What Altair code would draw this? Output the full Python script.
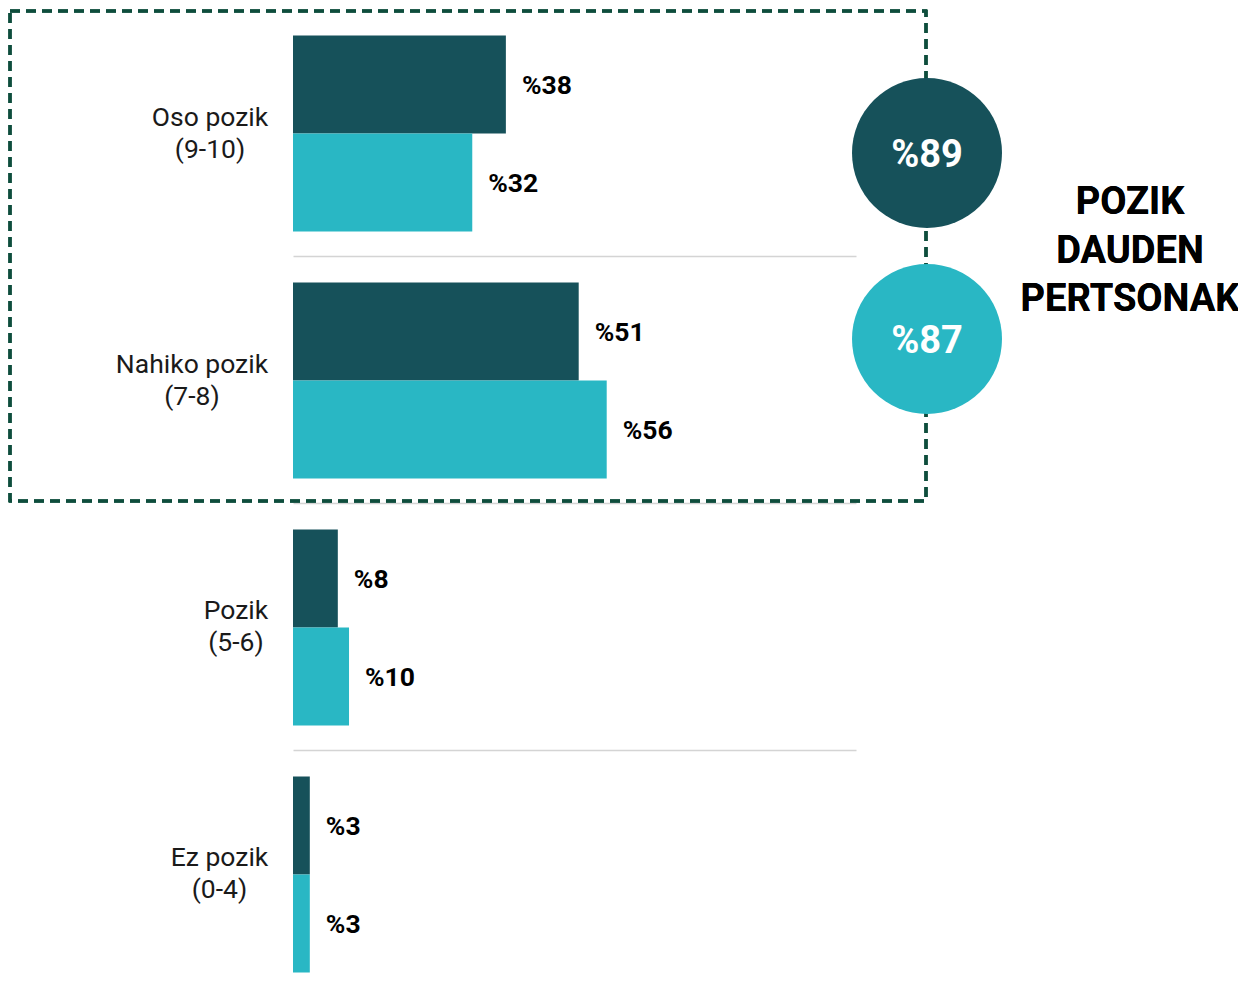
import altair as alt
import pandas as pd

# ---- data ----
categories = ["Oso pozik\n(9-10)", "Nahiko pozik\n(7-8)", "Pozik\n(5-6)", "Ez pozik\n(0-4)"]
series = ["Serie 1", "Serie 2"]
values_1 = [38, 51, 8, 3]
values_2 = [32, 56, 10, 3]
totals = [89, 87]
side_title = ["POZIK", "DAUDEN", "PERTSONAK"]
colors = ["#16515A", "#29B7C4"]

rows = []
for c, a, b in zip(categories, values_1, values_2):
    rows.append({"cat": c, "serie": series[0], "v": a, "label": f"%{a}"})
    rows.append({"cat": c, "serie": series[1], "v": b, "label": f"%{b}"})
df = pd.DataFrame(rows)

df_tot = pd.DataFrame({"serie": series, "total": totals,
                       "label": [f"%{t}" for t in totals]})

FONT = "Roboto"
W = 563
H = 970

# label padding so that each two-line label is centred and its block ends near the bars
label_pad = {"Nahiko": 101.5, "Ez pozik": 74, "Pozik": 57.5}
label_pad_cond = alt.ConditionalAxisNumber(
    condition=[
        {"test": f"indexof(datum.value, '{k}') == 0", "value": v}
        for k, v in label_pad.items()
    ],
    value=83.5,
)

color = alt.Color("serie:N", scale=alt.Scale(domain=series, range=colors), legend=None)
y_enc = alt.Y(
    "cat:N",
    scale=alt.Scale(domain=categories, range=[0, 988], paddingInner=0.2065, paddingOuter=0.1033),
    sort=categories,
    axis=alt.Axis(
        title=None, domain=False, ticks=False,
        labelFont=FONT, labelFontSize=26.5, labelColor="#1a1a1a",
        labelPadding=label_pad_cond, labelLineHeight=32, labelAlign="center",
        labelBaseline="middle", labelOffset=-16,
        labelExpr="split(datum.label, '\\n')",
        grid=True, gridColor="#d4d4d4", gridWidth=1.5, bandPosition=1.13,
    ),
)
x_enc = alt.X("v:Q", scale=alt.Scale(domain=[0, 100.5]), axis=None)
yoff = alt.YOffset("serie:N", scale=alt.Scale(domain=series, paddingInner=0, paddingOuter=0))

base = alt.Chart(df)
bars = base.mark_bar().encode(y=y_enc, x=x_enc, yOffset=yoff, color=color)
labels = base.mark_text(align="left", baseline="middle", dx=16, dy=1.5, fontSize=26.5,
                        fontWeight="bold", font=FONT, color="#000000").encode(
    y=y_enc, x=x_enc, yOffset=yoff, text="label:N")

box = alt.Chart(df).mark_rect(filled=False, stroke="#0E4D3C", strokeDash=[10, 6],
                              strokeWidth=2.5).encode(
    x=alt.value(-283), x2=alt.value(633), y=alt.value(1), y2=alt.value(491))

circle_layers = []
for i, ypix in enumerate([143, 329]):
    d = alt.Chart(df_tot).transform_filter(alt.datum.serie == series[i])
    circle_layers.append(d.mark_circle(size=22500, opacity=1).encode(
        x=alt.value(634), y=alt.value(ypix), color=color))
    circle_layers.append(d.mark_text(fontSize=38, fontWeight="bold", font=FONT, dy=2.5,
                                     color="white", baseline="middle", align="center").encode(
        x=alt.value(634), y=alt.value(ypix), text="label:N"))

side = alt.Chart(df_tot).mark_text(
    text="\n".join(side_title), lineBreak="\n", lineHeight=48.5, fontSize=38,
    fontWeight="bold", font=FONT, color="#000000", align="center", baseline="middle"
).encode(x=alt.value(837), y=alt.value(193))

chart = alt.layer(bars, labels, box, *circle_layers, side).properties(
    width=W, height=H,
    autosize=alt.AutoSizeParams(type="none"),
    padding={"left": 285, "top": 2, "right": 382, "bottom": 0},
).configure_view(strokeWidth=0)

chart.save("out.html", embed_options={"renderer": "svg", "actions": False})
